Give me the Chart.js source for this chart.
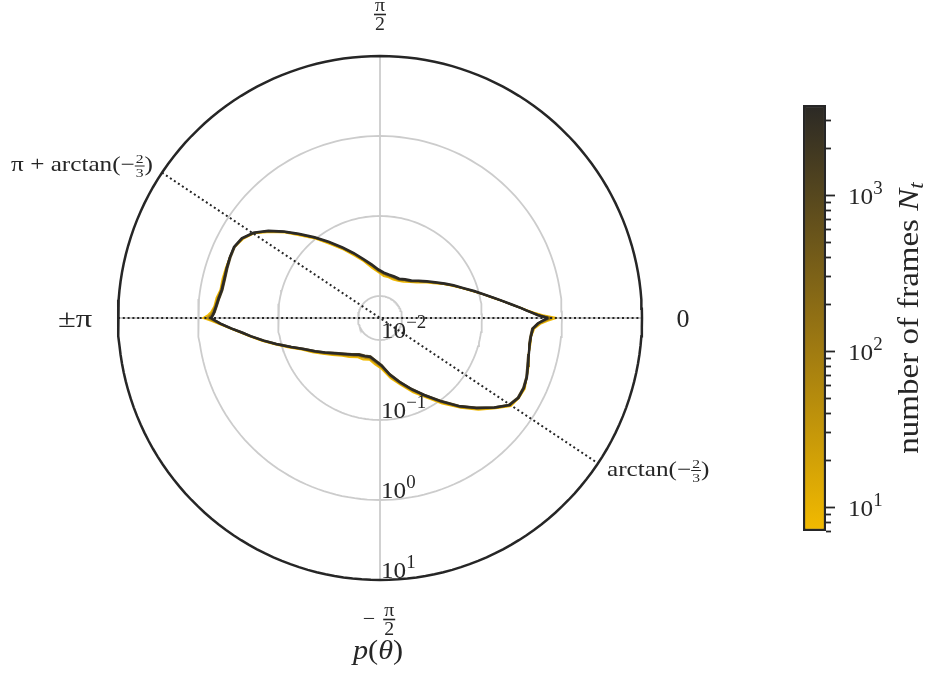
<!DOCTYPE html>
<html>
<head>
<meta charset="utf-8">
<script src="https://cdn.jsdelivr.net/npm/chart.js@4/dist/chart.umd.min.js"></script>
<style>
  html, body { margin: 0; padding: 0; background: #ffffff; }
  #wrap { position: relative; width: 925px; height: 681px; overflow: hidden; }
  #polar { position: absolute; left: 0; top: 0; }
  #cbar { position: absolute; left: 780px; top: 80px; }
</style>
</head>
<body>
<div id="wrap">
  <canvas id="polar" width="925" height="681"></canvas>
  <canvas id="cbar" width="145" height="480"></canvas>
</div>
<script>
// Sample angles (degrees, counter-clockwise from the +x direction)
const thetaDeg = [0,1,2,3,4,6,8,10,13,16,20,24,28,33,38,44,50,57,64,71,78,85,92,99,106,112,118,124,129,134,
  138,142,146,150,154,158,162,166,170,173,176,178,179,180,181,182,184,186,188,191,194,198,202,207,212,218,225,232,240,248,
  256,264,272,280,287,294,300,306,312,317,322,326,330,334,338,342,346,350,353,356,358,359];

// Number of frames N_t used for each density estimate
const frames = [3750, 900, 200, 45, 7];

// log10 p(theta) for each estimate, one value per angle above
const logP_N3750 = [
  -0.175,-0.300,-0.375,-0.444,-0.505,-0.626,-0.731,-0.826,-0.948,-1.050,
  -1.174,-1.269,-1.358,-1.453,-1.531,-1.604,-1.664,-1.699,-1.728,-1.726,
  -1.721,-1.705,-1.668,-1.596,-1.504,-1.399,-1.276,-1.124,-0.976,-0.810,
  -0.658,-0.504,-0.366,-0.280,-0.245,-0.250,-0.260,-0.269,-0.266,-0.243,
  -0.219,-0.200,-0.185,-0.163,-0.220,-0.278,-0.408,-0.538,-0.640,-0.791,
  -0.934,-1.104,-1.241,-1.359,-1.459,-1.558,-1.639,-1.696,-1.745,-1.761,
  -1.774,-1.736,-1.678,-1.554,-1.438,-1.298,-1.160,-0.991,-0.789,-0.625,
  -0.456,-0.326,-0.278,-0.275,-0.295,-0.331,-0.359,-0.375,-0.374,-0.360,
  -0.300,-0.244];
const logP_N900 = [
  -0.168,-0.296,-0.376,-0.448,-0.510,-0.633,-0.738,-0.834,-0.957,-1.059,
  -1.183,-1.279,-1.368,-1.463,-1.541,-1.614,-1.674,-1.709,-1.738,-1.736,
  -1.731,-1.715,-1.678,-1.606,-1.514,-1.409,-1.286,-1.134,-0.986,-0.820,
  -0.668,-0.514,-0.376,-0.290,-0.255,-0.260,-0.270,-0.279,-0.276,-0.253,
  -0.229,-0.208,-0.190,-0.160,-0.224,-0.286,-0.417,-0.547,-0.649,-0.800,
  -0.943,-1.113,-1.250,-1.368,-1.468,-1.567,-1.648,-1.705,-1.754,-1.770,
  -1.783,-1.745,-1.687,-1.563,-1.447,-1.307,-1.169,-1.000,-0.798,-0.634,
  -0.465,-0.335,-0.287,-0.284,-0.304,-0.340,-0.368,-0.384,-0.383,-0.369,
  -0.306,-0.248];
const logP_N200 = [
  -0.147,-0.285,-0.368,-0.441,-0.504,-0.628,-0.733,-0.829,-0.951,-1.054,
  -1.178,-1.274,-1.363,-1.459,-1.538,-1.611,-1.672,-1.708,-1.737,-1.736,
  -1.731,-1.715,-1.678,-1.606,-1.513,-1.408,-1.285,-1.132,-0.983,-0.817,
  -0.664,-0.509,-0.370,-0.283,-0.247,-0.250,-0.257,-0.264,-0.261,-0.237,
  -0.213,-0.190,-0.170,-0.138,-0.207,-0.271,-0.405,-0.534,-0.637,-0.786,
  -0.929,-1.098,-1.235,-1.351,-1.451,-1.549,-1.630,-1.686,-1.735,-1.750,
  -1.764,-1.725,-1.668,-1.544,-1.429,-1.289,-1.152,-0.983,-0.782,-0.618,
  -0.451,-0.321,-0.275,-0.272,-0.294,-0.329,-0.359,-0.373,-0.373,-0.356,
  -0.291,-0.228];
const logP_N45 = [
  -0.115,-0.268,-0.359,-0.436,-0.504,-0.630,-0.736,-0.830,-0.956,-1.057,
  -1.184,-1.280,-1.370,-1.466,-1.546,-1.620,-1.682,-1.718,-1.748,-1.747,
  -1.743,-1.727,-1.690,-1.617,-1.525,-1.419,-1.295,-1.142,-0.992,-0.825,
  -0.671,-0.516,-0.375,-0.288,-0.249,-0.249,-0.253,-0.257,-0.254,-0.229,
  -0.205,-0.178,-0.153,-0.108,-0.190,-0.263,-0.401,-0.530,-0.633,-0.781,
  -0.924,-1.091,-1.228,-1.342,-1.442,-1.538,-1.619,-1.674,-1.723,-1.737,
  -1.751,-1.712,-1.655,-1.531,-1.417,-1.277,-1.142,-0.973,-0.774,-0.610,
  -0.446,-0.316,-0.272,-0.269,-0.293,-0.327,-0.359,-0.371,-0.371,-0.350,
  -0.280,-0.209];
const logP_N7 = [
  -0.065,-0.240,-0.345,-0.432,-0.501,-0.632,-0.733,-0.838,-0.955,-1.066,
  -1.186,-1.291,-1.374,-1.480,-1.553,-1.637,-1.691,-1.737,-1.760,-1.768,
  -1.756,-1.749,-1.704,-1.641,-1.538,-1.440,-1.307,-1.161,-1.002,-0.842,
  -0.680,-0.532,-0.381,-0.300,-0.251,-0.250,-0.248,-0.245,-0.248,-0.215,
  -0.197,-0.160,-0.125,-0.063,-0.165,-0.250,-0.396,-0.522,-0.630,-0.771,
  -0.918,-1.078,-1.219,-1.326,-1.431,-1.520,-1.606,-1.653,-1.708,-1.715,
  -1.735,-1.689,-1.637,-1.508,-1.402,-1.256,-1.130,-0.953,-0.765,-0.593,
  -0.442,-0.302,-0.272,-0.259,-0.299,-0.319,-0.365,-0.365,-0.372,-0.342,
  -0.262,-0.179];

// Radial axis: log10 p tick positions and the inner limit of the log scale
const radialTickExp = [-2, -1, 0, 1];
const LOG_R_MIN = -2.275;

// Reference directions (tan = -2/3)
const refSlopeNum = -2, refSlopeDen = 3;

// Colour map for N_t (low -> high)
const cmapStops = [[0.0, '#f2ba00'], [0.45, '#9b7712'], [1.0, '#2b2925']];

const INK = '#262626';
const FONT = '"Liberation Serif", "DejaVu Serif", serif';

// ---------- helpers ----------
function hexToRgb(h) { const n = parseInt(h.slice(1), 16); return [(n >> 16) & 255, (n >> 8) & 255, n & 255]; }
function cmap(f) {
  f = Math.max(0, Math.min(1, f));
  for (let i = 0; i < cmapStops.length - 1; i++) {
    const [f0, c0] = cmapStops[i], [f1, c1] = cmapStops[i + 1];
    if (f <= f1) {
      const t = (f - f0) / (f1 - f0), a = hexToRgb(c0), b = hexToRgb(c1);
      return 'rgb(' + a.map((v, k) => Math.round(v + (b[k] - v) * t)).join(',') + ')';
    }
  }
  return cmapStops[cmapStops.length - 1][1];
}
const nMin = Math.min(...frames), nMax = Math.max(...frames);
const frac = n => (Math.log10(n) - Math.log10(nMin)) / (Math.log10(nMax) - Math.log10(nMin));

const R_OUT = radialTickExp[radialTickExp.length - 1] - LOG_R_MIN;
function toXY(deg, lp) {
  const u = lp - LOG_R_MIN, a = deg * Math.PI / 180;
  return { x: u * Math.cos(a), y: u * Math.sin(a) };
}
function curve(lps) {
  const pts = thetaDeg.map((d, i) => toXY(d, lps[i]));
  pts.push(pts[0]);
  return pts;
}
function ring(lp) {
  const pts = [];
  for (let d = 0; d <= 360; d += 2) pts.push(toXY(d, lp));
  return pts;
}
function lineDs(data, color, width, dash) {
  return { data, showLine: true, borderColor: color, borderWidth: width, borderDash: dash || [],
           pointRadius: 0, fill: false, clip: false, tension: 0, borderCapStyle: 'butt' };
}

function setFont(ctx, size, it) { ctx.font = (it ? 'italic ' : '') + size + 'px ' + FONT; }
// draws a run of text pieces (plain, raised/lowered, or stacked fractions); sx widens glyphs horizontally
function drawMath(ctx, parts, x, y, align, sx) {
  sx = sx || 1;
  const ws = parts.map(p => {
    const g = (p.gapL || 0) + (p.gapR || 0);
    setFont(ctx, p.size, p.it);
    if (p.frac) return Math.max(ctx.measureText(p.frac[0]).width, ctx.measureText(p.frac[1]).width) * sx + 2 * (p.pad ?? 1.5) + g;
    return ctx.measureText(p.t).width * sx + g;
  });
  const total = ws.reduce((a, b) => a + b, 0);
  let cx = align === 'center' ? x - total / 2 : align === 'right' ? x - total : x;
  ctx.fillStyle = INK; ctx.textBaseline = 'alphabetic';
  const put = (t, px, py, al) => {
    ctx.save(); ctx.translate(px, py); ctx.scale(sx, 1); ctx.textAlign = al; ctx.fillText(t, 0, 0); ctx.restore();
  };
  parts.forEach((p, i) => {
    const gl = p.gapL || 0, inner = ws[i] - gl - (p.gapR || 0);
    setFont(ctx, p.size, p.it);
    if (p.frac) {
      const barY = y - (p.axis || 0), mid = cx + gl + inner / 2, lw = p.rule || 1.2;
      put(p.frac[0], mid, barY - p.size * 0.2, 'center');
      put(p.frac[1], mid, barY + p.size * 0.86, 'center');
      ctx.fillRect(cx + gl, barY - lw / 2, inner, lw);
    } else {
      put(p.t, cx + gl, y + (p.dy || 0), 'left');
    }
    cx += ws[i];
  });
}
const supText = e => (e < 0 ? '\u2212' : '') + Math.abs(e);

// ---------- polar density plot ----------
const series = [
  { n: frames[0], lp: logP_N3750, w: 2.5 },
  { n: frames[1], lp: logP_N900, w: 2.0 },
  { n: frames[2], lp: logP_N200, w: 1.8 },
  { n: frames[3], lp: logP_N45, w: 1.8 },
  { n: frames[4], lp: logP_N7, w: 1.8 }
];
const refAngle = Math.atan2(refSlopeNum, refSlopeDen);
const datasets = [];
datasets.push(lineDs(ring(radialTickExp[radialTickExp.length - 1]), INK, 2.5));
datasets.push(lineDs([{ x: R_OUT * Math.cos(refAngle + Math.PI), y: R_OUT * Math.sin(refAngle + Math.PI) },
                      { x: R_OUT * Math.cos(refAngle), y: R_OUT * Math.sin(refAngle) }], INK, 2, [2, 2.8]));
datasets.push(lineDs([{ x: -R_OUT, y: 0 }, { x: R_OUT, y: 0 }], INK, 2, [2, 2.8]));
series.forEach(s => datasets.push(lineDs(curve(s.lp), cmap(frac(s.n)), s.w)));
datasets.push(lineDs([{ x: 0, y: -R_OUT }, { x: 0, y: R_OUT }], '#cccccc', 1.8));
datasets.push(lineDs([{ x: -R_OUT, y: 0 }, { x: R_OUT, y: 0 }], '#cccccc', 1.8));
radialTickExp.slice(0, -1).forEach(e => datasets.push(lineDs(ring(e), '#cccccc', 1.8)));

const polarLabels = {
  id: 'polarLabels',
  afterDraw(chart) {
    const ctx = chart.ctx, xs = chart.scales.x, ys = chart.scales.y;
    const cx = xs.getPixelForValue(0), cy = ys.getPixelForValue(0);
    ctx.save();
    // angular labels
    drawMath(ctx, [{ frac: ['\u03c0', '2'], size: 18, rule: 1.6, pad: 1 }], cx, 14.5, 'center', 1.1);
    drawMath(ctx, [{ t: '\u2212', size: 20, dy: 5 }, { frac: ['\u03c0', '2'], size: 18, rule: 1.6, pad: 1, gapL: 8 }], cx - 1, 619.5, 'center', 1.1);
    drawMath(ctx, [{ t: '0', size: 26 }], xs.getPixelForValue(R_OUT) + 41, cy + 9, 'center');
    drawMath(ctx, [{ t: '\u00b1\u03c0', size: 26 }], xs.getPixelForValue(-R_OUT) - 43, cy + 9, 'center', 1.25);
    // radial tick labels along the downward axis
    radialTickExp.forEach(e => {
      const py = ys.getPixelForValue(-(e - LOG_R_MIN));
      drawMath(ctx, [{ t: '10', size: 24 }, { t: supText(e), size: 18, dy: -10 }], cx + 1, py - 2.5, 'left', 1.05);
    });
    // reference-direction labels
    const fr = { frac: [String(-refSlopeNum), String(refSlopeDen)], size: 13, axis: 5, rule: 1, pad: 1 };
    drawMath(ctx, [{ t: '\u03c0 + arctan(\u2212', size: 21 }, fr, { t: ')', size: 21 }], 153, 171, 'right', 1.2);
    drawMath(ctx, [{ t: 'arctan(\u2212', size: 21 }, fr, { t: ')', size: 21 }], 607, 475.5, 'left', 1.2);
    // axis title
    drawMath(ctx, [{ t: 'p', size: 27, it: true }, { t: '(', size: 27 }, { t: '\u03b8', size: 27, it: true }, { t: ')', size: 27 }], cx - 2, 659, 'center', 1.12);
    ctx.restore();
  }
};

new Chart(document.getElementById('polar'), {
  type: 'scatter',
  data: { datasets },
  options: {
    responsive: false,
    animation: false,
    layout: { padding: { left: 118, right: 283, top: 56, bottom: 101 } },
    scales: {
      x: { type: 'linear', min: -R_OUT, max: R_OUT, display: false },
      y: { type: 'linear', min: -R_OUT, max: R_OUT, display: false }
    },
    plugins: { legend: { display: false }, tooltip: { enabled: false } }
  },
  plugins: [polarLabels]
});

// ---------- colour bar for N_t ----------
const cbarDecor = {
  id: 'cbarDecor',
  afterDraw(chart) {
    const ctx = chart.ctx, ys = chart.scales.y, area = chart.chartArea;
    ctx.save();
    ctx.strokeStyle = INK; ctx.lineWidth = 1.8;
    for (let e = 0; e <= 4; e++) {
      for (let m = 1; m <= 9; m++) {
        const v = m * Math.pow(10, e);
        if (v < nMin || v > nMax) continue;
        const py = Math.round(ys.getPixelForValue(v)) + 0.5;
        const len = m === 1 ? 9 : 5;
        ctx.beginPath(); ctx.moveTo(area.right, py); ctx.lineTo(area.right + len, py); ctx.stroke();
        if (m === 1) drawMath(ctx, [{ t: '10', size: 24 }, { t: String(e), size: 18, dy: -10 }], area.right + 22, py + 8, 'left', 1.05);
      }
    }
    // rotated axis label
    ctx.translate(area.right + 92, (area.top + area.bottom) / 2);
    ctx.rotate(-Math.PI / 2);
    drawMath(ctx, [{ t: 'number of frames ', size: 30 }, { t: 'N', size: 30, it: true }, { t: 't', size: 21, it: true, dy: 5 }], 0, 0, 'center', 1.1);
    ctx.restore();
  }
};

new Chart(document.getElementById('cbar'), {
  type: 'bar',
  data: {
    labels: ['N_t'],
    datasets: [{
      data: [[nMin, nMax]],
      backgroundColor: (c) => {
        const ch = c.chart;
        if (!ch.chartArea) return cmapStops[0][1];
        const ys = ch.scales.y;
        const g = ch.ctx.createLinearGradient(0, ys.getPixelForValue(nMin), 0, ys.getPixelForValue(nMax));
        cmapStops.forEach(([f, col]) => g.addColorStop(f, col));
        return g;
      },
      borderColor: INK,
      borderWidth: 2.5,
      borderSkipped: false,
      barPercentage: 1,
      categoryPercentage: 1
    }]
  },
  options: {
    responsive: false,
    animation: false,
    layout: { padding: { left: 23, right: 99, top: 25, bottom: 29 } },
    scales: {
      x: { display: false },
      y: { type: 'logarithmic', min: nMin, max: nMax, display: false }
    },
    plugins: { legend: { display: false }, tooltip: { enabled: false } }
  },
  plugins: [cbarDecor]
});
</script>
</body>
</html>
